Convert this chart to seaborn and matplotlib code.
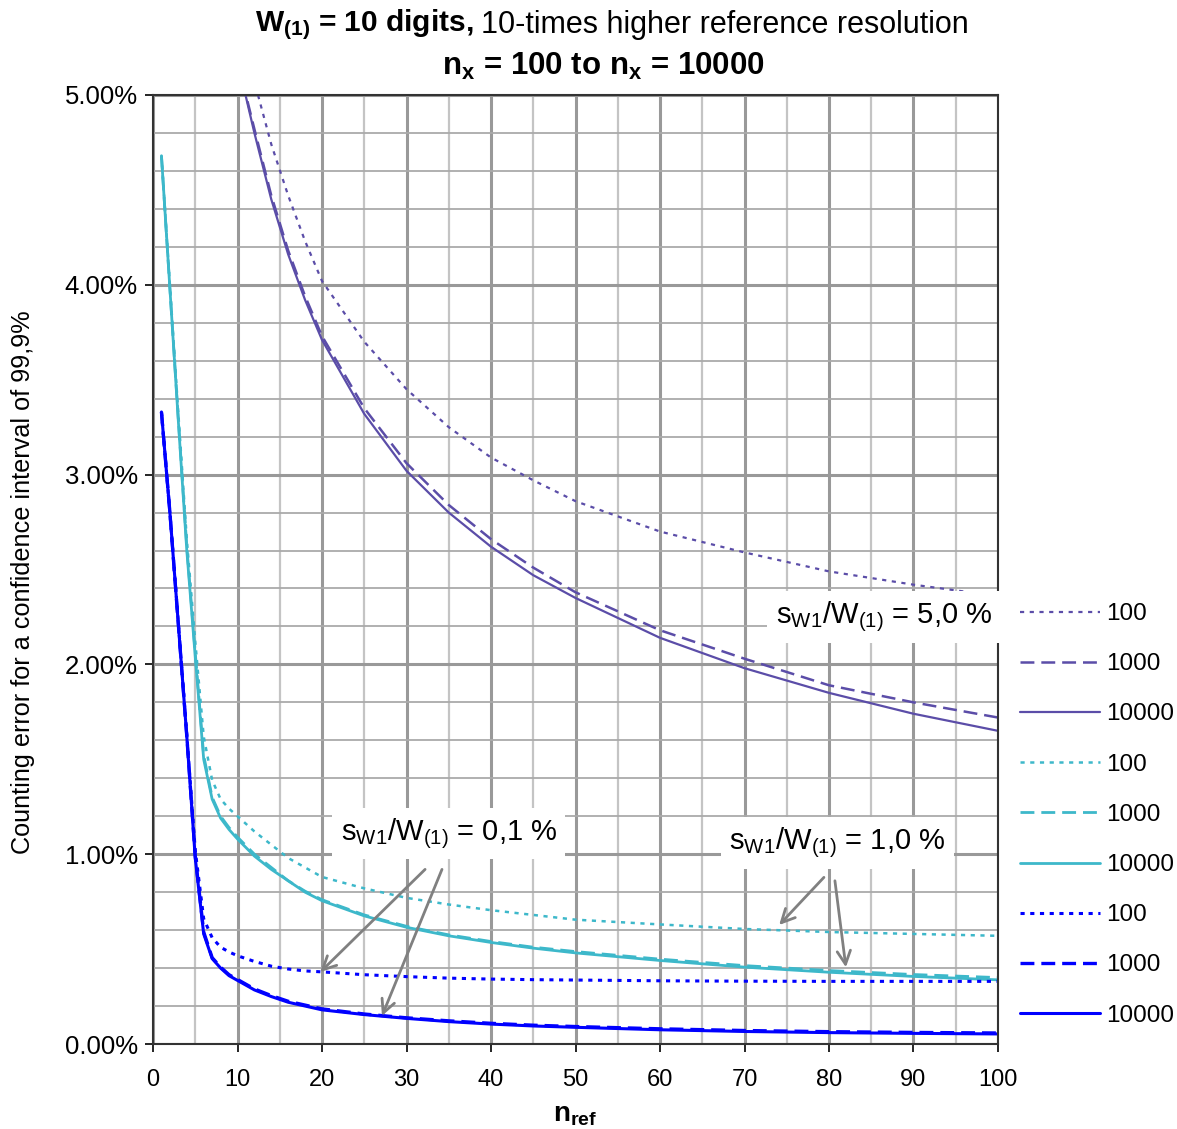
import matplotlib
matplotlib.use("Agg")
import matplotlib.pyplot as plt
import numpy as np
import pandas as pd
import seaborn as sns
from matplotlib.ticker import MultipleLocator, FuncFormatter

NAN = float("nan")

N_REF = [1, 2, 3, 4, 5, 6, 7, 8, 9, 10, 12, 14, 16, 18, 20,
         25, 30, 35, 40, 45, 50, 60, 70, 80, 90, 100]

# s_W1/W(1) = 5,0 %  (values in %, left part runs off the top of the chart)
S50_N100 = [NAN, NAN, NAN, NAN, NAN, NAN, NAN, NAN, NAN, 5.50, 5.07, 4.74, 4.47, 4.23, 4.02,
            3.70, 3.45, 3.25, 3.09, 2.97, 2.86, 2.70, 2.59, 2.49, 2.42, 2.36]
S50_N1000 = [NAN, NAN, NAN, NAN, NAN, NAN, NAN, NAN, NAN, 5.18, 4.82, 4.47, 4.18, 3.94, 3.73,
             3.35, 3.06, 2.84, 2.66, 2.51, 2.38, 2.18, 2.03, 1.89, 1.80, 1.72]
S50_N10000 = [NAN, NAN, NAN, NAN, NAN, NAN, NAN, NAN, NAN, 5.18, 4.80, 4.45, 4.16, 3.92, 3.71,
              3.32, 3.02, 2.80, 2.62, 2.47, 2.35, 2.14, 1.98, 1.85, 1.74, 1.65]

# s_W1/W(1) = 1,0 %
S10_N100 = [4.68, 4.00, 3.32, 2.66, 2.12, 1.62, 1.39, 1.29, 1.24, 1.20, 1.12, 1.05, 0.98, 0.93, 0.88,
            0.82, 0.77, 0.735, 0.705, 0.68, 0.655, 0.63, 0.606, 0.59, 0.58, 0.57]
S10_N1000 = [4.68, 3.98, 3.29, 2.62, 2.06, 1.52, 1.30, 1.20, 1.14, 1.09, 1.00, 0.93, 0.86, 0.805, 0.76,
             0.68, 0.62, 0.575, 0.54, 0.51, 0.487, 0.447, 0.413, 0.387, 0.366, 0.35]
S10_N10000 = [4.68, 3.98, 3.28, 2.60, 2.04, 1.50, 1.29, 1.19, 1.13, 1.08, 0.99, 0.92, 0.86, 0.80, 0.755,
              0.675, 0.615, 0.57, 0.535, 0.505, 0.48, 0.44, 0.405, 0.378, 0.356, 0.338]

# s_W1/W(1) = 0,1 %
S01_N100 = [3.33, 2.80, 2.22, 1.63, 1.02, 0.66, 0.56, 0.51, 0.485, 0.465, 0.435, 0.41, 0.395, 0.385, 0.38,
            0.365, 0.355, 0.347, 0.342, 0.339, 0.337, 0.333, 0.331, 0.330, 0.330, 0.330]
S01_N1000 = [3.33, 2.80, 2.21, 1.62, 0.99, 0.59, 0.455, 0.405, 0.365, 0.34, 0.29, 0.255, 0.225, 0.205, 0.185,
             0.158, 0.138, 0.122, 0.109, 0.099, 0.092, 0.080, 0.071, 0.065, 0.061, 0.058]
S01_N10000 = [3.33, 2.80, 2.21, 1.62, 0.98, 0.58, 0.45, 0.40, 0.36, 0.335, 0.285, 0.25, 0.22, 0.20, 0.18,
              0.155, 0.135, 0.118, 0.105, 0.095, 0.088, 0.075, 0.066, 0.060, 0.056, 0.053]

PURPLE = "#5B4DA8"
CYAN = "#3DB8CA"
BLUE = "#0000FF"
DASHES = {"100": (3, 4), "1000": (10, 5), "10000": ()}

SERIES = [
    (S50_N100, PURPLE, "100", 1.6),
    (S50_N1000, PURPLE, "1000", 1.8),
    (S50_N10000, PURPLE, "10000", 1.6),
    (S10_N100, CYAN, "100", 1.8),
    (S10_N1000, CYAN, "1000", 2.0),
    (S10_N10000, CYAN, "10000", 2.0),
    (S01_N100, BLUE, "100", 2.2),
    (S01_N1000, BLUE, "1000", 2.4),
    (S01_N10000, BLUE, "10000", 2.2),
]

sns.set_style("white")
plt.rcParams["font.family"] = ["Liberation Sans", "DejaVu Sans"]
plt.rcParams["mathtext.fontset"] = "custom"
plt.rcParams["mathtext.rm"] = "Liberation Sans"
plt.rcParams["mathtext.it"] = "Liberation Sans"
plt.rcParams["mathtext.bf"] = "Liberation Sans:bold"
plt.rcParams["mathtext.default"] = "regular"
plt.rcParams["lines.scale_dashes"] = False
for key in ["text.color", "axes.labelcolor", "xtick.color", "ytick.color"]:
    plt.rcParams[key] = "black"

fig = plt.figure(figsize=(11.77, 11.29), dpi=100)
ax = fig.add_axes([153 / 1177, 1 - 1044 / 1129, (998 - 153) / 1177, (1044 - 95) / 1129])

handles = []
for values, color, nx, lw in SERIES:
    df = pd.DataFrame({"n_ref": N_REF, "error": values}).dropna()
    sns.lineplot(data=df, x="n_ref", y="error", color=color, lw=lw,
                 errorbar=None, legend=False, ax=ax)
    line = ax.lines[-1]
    if DASHES[nx]:
        line.set_dashes(DASHES[nx])
    line.set_label(nx)
    handles.append(line)
if ax.get_legend() is not None:
    ax.get_legend().remove()

ax.set_xlim(0, 100)
ax.set_ylim(0, 5)
ax.xaxis.set_major_locator(MultipleLocator(10))
ax.xaxis.set_minor_locator(MultipleLocator(5))
ax.yaxis.set_major_locator(MultipleLocator(1))
ax.yaxis.set_minor_locator(MultipleLocator(0.2))
ax.yaxis.set_major_formatter(FuncFormatter(lambda v, _: f"{v:.2f}%"))

ax.xaxis.grid(True, which="major", color="#999999", lw=2.2)
ax.yaxis.grid(True, which="major", color="#999999", lw=2.2)
ax.xaxis.grid(True, which="minor", color="#c4c4c4", lw=1.6)
ax.yaxis.grid(True, which="minor", color="#aaaaaa", lw=1.3)
ax.set_axisbelow(True)

ax.tick_params(which="major", direction="out", length=6, width=1.2, color="black",
               labelsize=17, labelcolor="black", bottom=True, left=True)
ax.tick_params(axis="x", which="major", pad=12)
ax.tick_params(axis="y", which="major", pad=5, labelsize=18.5)
ax.tick_params(which="minor", length=0)
for sp in ax.spines.values():
    sp.set_color("#333333")
    sp.set_linewidth(1.5)

ax.set_xlabel("n$_{ref}$", fontsize=20, fontweight="bold", labelpad=8)
ax.set_ylabel("Counting error for a confidence interval of 99,9%", fontsize=18.2)
ax.yaxis.set_label_coords(-0.1396, (1044 - 582) / 949)

# title: bold first part, normal rest
fig.text(473 / 1177, 1 - 25 / 1129, "W$_{(1)}$ = 10 digits,", ha="right", va="center",
         fontsize=21.5, fontweight="bold")
fig.text(481 / 1177, 1 - 25 / 1129, "10-times higher reference resolution", ha="left",
         va="center", fontsize=22)
fig.text(603 / 1177, 1 - 66 / 1129, "n$_x$ = 100 to n$_x$ = 10000",
         ha="center", va="center", fontsize=22.5, fontweight="bold")

box = dict(facecolor="white", edgecolor="none", pad=6)
ax.text(86.5, 2.25, r"s$_{W1}$/W$_{(1)}$ = 5,0 %", fontsize=21, ha="center", va="center",
        bbox=box, zorder=6, clip_on=False)
ax.text(35.0, 1.11, r"s$_{W1}$/W$_{(1)}$ = 0,1 %", fontsize=21, ha="center", va="center",
        bbox=box, zorder=6)
ax.text(81.0, 1.06, r"s$_{W1}$/W$_{(1)}$ = 1,0 %", fontsize=21, ha="center", va="center",
        bbox=box, zorder=6)

arrow = dict(arrowstyle="->", color="#808080", lw=2, mutation_scale=24, shrinkA=0, shrinkB=0)
for start, tip in [((32.2, 0.92), (19.8, 0.379)), ((34.2, 0.92), (27.1, 0.148)),
                   ((79.4, 0.878), (74.1, 0.627)), ((80.7, 0.86), (82.0, 0.404))]:
    ax.annotate("", xy=tip, xytext=start, arrowprops=arrow, zorder=7)

fig.legend(handles=handles, labels=[h.get_label() for h in handles],
           loc="upper left", bbox_to_anchor=(1020 / 1177, 1 - 603 / 1129),
           frameon=False, fontsize=17.5, handlelength=3.3, handletextpad=0.25,
           labelspacing=1.16, borderpad=0, borderaxespad=0)

fig.savefig("out.png", dpi=100)
